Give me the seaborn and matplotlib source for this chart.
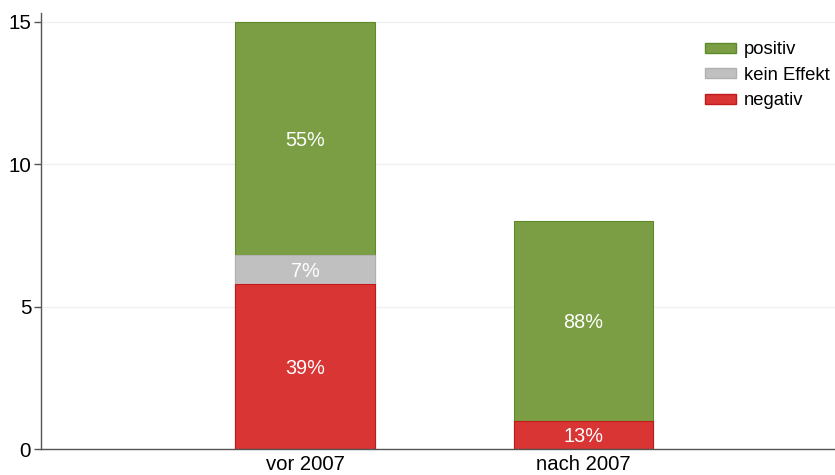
import matplotlib
matplotlib.use('Agg')
import matplotlib.pyplot as plt
import seaborn as sns
import pandas as pd
from matplotlib.patches import Patch

# data
periods = ['vor 2007', 'nach 2007']
negativ = [5.8, 1.0]
kein_effekt = [1.0, 0.0]
positiv = [8.2, 7.0]
labels = ['positiv', 'kein Effekt', 'negativ']

colors = {'positiv': '#7b9e44', 'kein Effekt': '#c0c0c0', 'negativ': '#d83534'}
edges = {'positiv': '#5e8a2a', 'kein Effekt': '#b0b0b0', 'negativ': '#c01a1a'}

sns.set_theme(style='white')
plt.rcParams['font.family'] = ['Liberation Sans', 'DejaVu Sans']

df = pd.DataFrame({'period': periods, 'negativ': negativ,
                   'kein Effekt': kein_effekt, 'positiv': positiv})
df['total'] = df['negativ'] + df['kein Effekt'] + df['positiv']
df['lower2'] = df['negativ'] + df['kein Effekt']

fig = plt.figure(figsize=(8.35, 4.75), dpi=100)
ax = fig.add_axes([0.049, 0.0547, 0.951, 0.918])

# stacked bars drawn as overlapping cumulative totals
sns.barplot(data=df, x='period', y='total', color=colors['positiv'],
            edgecolor=edges['positiv'], linewidth=0.8, width=0.5, ax=ax, saturation=1)
sns.barplot(data=df[df['kein Effekt'] > 0], x='period', y='lower2', color=colors['kein Effekt'],
            edgecolor=edges['kein Effekt'], linewidth=0.8, width=0.5, ax=ax, saturation=1,
            order=periods)
sns.barplot(data=df, x='period', y='negativ', color=colors['negativ'],
            edgecolor=edges['negativ'], linewidth=0.8, width=0.5, ax=ax, saturation=1)

# percentage labels
for i, row in df.iterrows():
    base = 0
    for key in ['negativ', 'kein Effekt', 'positiv']:
        v = row[key]
        if v > 0:
            pct = int(v / row['total'] * 100 + 0.5)
            ax.text(i, base + v / 2, f"{pct}%", ha='center', va='center_baseline',
                    color='white', fontsize=14.3)
        base += v

ax.set_xlim(-0.948, 1.903)
ax.set_ylim(0, 15.3)
ax.set_yticks([0, 5, 10, 15])
ax.set_xlabel('')
ax.set_ylabel('')
ax.yaxis.grid(True, color='#f0f0f0', linewidth=1)
ax.set_axisbelow(True)
for s in ['top', 'right']:
    ax.spines[s].set_visible(False)
for s in ['left', 'bottom']:
    ax.spines[s].set_color('#555555')
    ax.spines[s].set_linewidth(1)
ax.tick_params(axis='y', length=5, width=1, color='#555555', labelsize=14.8, pad=2,
               left=True, labelcolor='black')
ax.tick_params(axis='x', length=0, labelsize=14.6, pad=4, labelcolor='black')

handles = [Patch(facecolor=colors[k], edgecolor=edges[k], label=k) for k in labels]
ax.legend(handles=handles, loc='upper right', frameon=False, fontsize=13.3,
          handlelength=1.65, handleheight=0.45, handletextpad=0.45, labelspacing=0.46,
          borderaxespad=0.0, bbox_to_anchor=(1.003, 0.952), labelcolor='black')

fig.savefig('out.png', dpi=100)
